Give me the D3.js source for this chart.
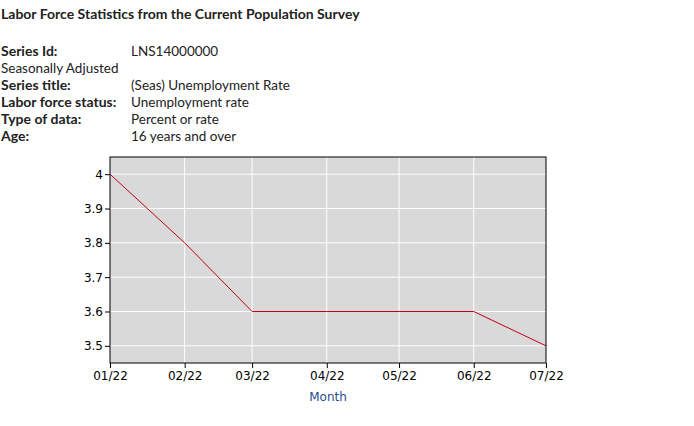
<!DOCTYPE html>
<html><head><meta charset="utf-8">
<script src="https://cdn.jsdelivr.net/npm/d3@7"></script>
<style>
body{margin:0;background:#fff;}
svg{display:block;}
</style></head>
<body>
<svg id="c" width="694" height="426"></svg>
<script>
const title = "Labor Force Statistics from the Current Population Survey";
const metaLabels = ["Series Id:", "Seasonally Adjusted", "Series title:", "Labor force status:", "Type of data:", "Age:"];
const metaValues = ["LNS14000000", "", "(Seas) Unemployment Rate", "Unemployment rate", "Percent or rate", "16 years and over"];
const metaBold = [true, false, true, true, true, true];
const months = ["2022-01", "2022-02", "2022-03", "2022-04", "2022-05", "2022-06", "2022-07"];
const rates = [4.0, 3.8, 3.6, 3.6, 3.6, 3.6, 3.5];
const yTicks = [3.5, 3.6, 3.7, 3.8, 3.9, 4];
const xLabel = "Month";

const svg = d3.select("#c");
const txtFont = "Lato, 'Noto Sans', sans-serif";
svg.append("text").attr("x", 1).attr("y", 19).attr("font-family", txtFont)
  .attr("font-size", 14).attr("font-weight", "bold").attr("fill", "#222").text(title);

metaLabels.forEach((l, i) => {
  const y = 56 + i * 17;
  svg.append("text").attr("x", 1).attr("y", y).attr("font-family", txtFont)
    .attr("font-size", metaBold[i] ? 14 : 13.5)
    .attr("font-weight", metaBold[i] ? "bold" : "normal").attr("fill", "#222").text(l);
  if (metaValues[i]) svg.append("text").attr("x", 131).attr("y", y).attr("font-family", txtFont)
    .attr("font-size", 13.5).attr("fill", "#222").text(metaValues[i]);
});

const L = 110, R = 546, T = 157, B = 363;
const parse = d3.timeParse("%Y-%m");
const dates = months.map(parse);
const x = d3.scaleTime().domain([dates[0], dates[dates.length - 1]]).range([L, R]);
const y = d3.scaleLinear().domain([3.45, 4.05]).range([B, T]);

svg.append("rect").attr("x", L).attr("y", T).attr("width", R - L).attr("height", B - T).attr("fill", "#d9d9d9");

const g = svg.append("g");
g.selectAll(".vg").data(dates.slice(1, -1)).join("line")
  .attr("x1", d => x(d)).attr("x2", d => x(d)).attr("y1", T).attr("y2", B)
  .attr("stroke", "#fff").attr("stroke-width", 1);
g.selectAll(".hg").data(yTicks).join("line")
  .attr("x1", L).attr("x2", R).attr("y1", d => y(d)).attr("y2", d => y(d))
  .attr("stroke", "#fff").attr("stroke-width", 1);

const line = d3.line().x((d, i) => x(dates[i])).y(d => y(d));
svg.append("path").datum(rates).attr("d", line).attr("fill", "none")
  .attr("stroke", "#c0001a").attr("stroke-width", 1);

svg.append("rect").attr("x", L).attr("y", T).attr("width", R - L).attr("height", B - T)
  .attr("fill", "none").attr("stroke", "#000").attr("stroke-width", 1);

const axFont = "'DejaVu Sans', Verdana, sans-serif";
const yAxis = svg.append("g").attr("transform", `translate(${L},0)`)
  .call(d3.axisLeft(y).tickValues(yTicks).tickSize(5).tickPadding(2).tickFormat(d3.format("")));
yAxis.select(".domain").remove();
yAxis.attr("font-family", axFont).attr("font-size", 12);
yAxis.selectAll("text").attr("fill", "#000");

const xAxis = svg.append("g").attr("transform", `translate(0,${B})`)
  .call(d3.axisBottom(x).tickValues(dates).tickSize(5).tickPadding(3).tickFormat(d3.timeFormat("%m/%y")));
xAxis.select(".domain").remove();
xAxis.attr("font-family", axFont).attr("font-size", 12);
xAxis.selectAll("text").attr("fill", "#000");

svg.append("text").attr("x", (L + R) / 2).attr("y", 401).attr("text-anchor", "middle")
  .attr("font-family", axFont).attr("font-size", 12).attr("fill", "#1f4e8c").text(xLabel);
</script>
</body></html>
